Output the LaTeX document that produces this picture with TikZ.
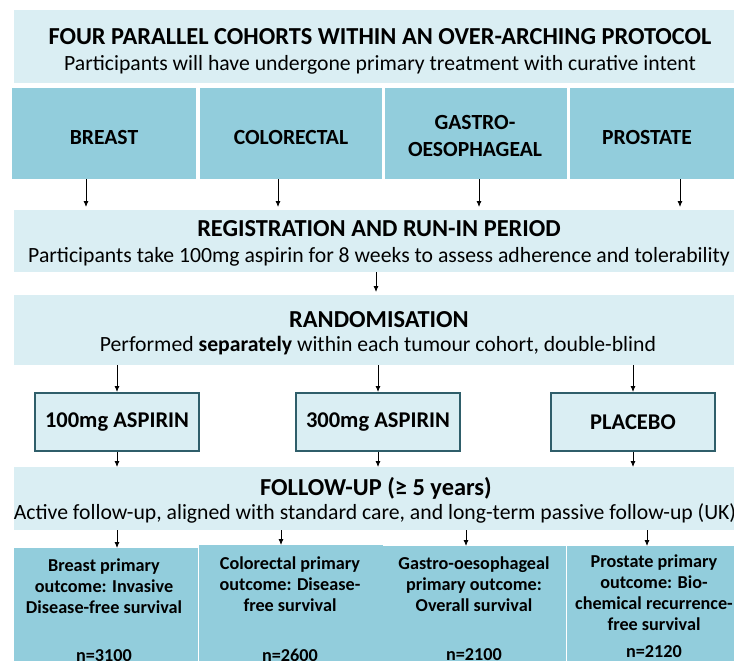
\documentclass[tikz,border=0pt]{standalone}
\usepackage{fontspec}
\setmainfont{Carlito}
\usetikzlibrary{arrows.meta}
\definecolor{lightb}{HTML}{DAEEF3}
\definecolor{midb}{HTML}{92CDDC}
\definecolor{darkb}{HTML}{2F5E6A}
\tikzset{
  banner/.style={fill=lightb, draw=none},
  cohort/.style={fill=midb, draw=none},
  treat/.style={fill=lightb, draw=darkb, line width=2pt, font=\fontsize{22.5}{26}\selectfont\bfseries, inner sep=0pt},
  arr/.style={-{Latex[length=6pt,width=5pt]}, line width=0.8pt, black},
  ttl/.style={font=\fontsize{24.4}{28}\selectfont\bfseries, inner sep=0pt},
  sub/.style={font=\fontsize{21.7}{25}\selectfont, inner sep=0pt},
  clab/.style={font=\fontsize{21.6}{27}\selectfont\bfseries, inner sep=0pt, align=center},
  olab/.style={font=\fontsize{18.2}{21}\selectfont\bfseries, inner sep=0pt, align=center},
}
\begin{document}
\begin{tikzpicture}[x=1pt,y=-1pt]
\useasboundingbox (0,0) rectangle (734,661);
\clip (0,0) rectangle (734,661);
% banners
\path[banner] (14,10) rectangle (745,83);
\node[ttl] (t1) at (380,37) {FOUR PARALLEL COHORTS WITHIN AN OVER-ARCHING PROTOCOL};
\node[sub] (s1) at (380,65) {Participants will have undergone primary treatment with curative intent};
% cohorts
\node[cohort, minimum width=184pt, minimum height=91pt, anchor=north west] (c1) at (12,88) {};
\node[cohort, minimum width=182pt, minimum height=91pt, anchor=north west] (c2) at (200,88) {};
\node[cohort, minimum width=182pt, minimum height=91pt, anchor=north west] (c3) at (385,88) {};
\node[cohort, minimum width=175pt, minimum height=91pt, anchor=north west] (c4) at (570,88) {};
\node[clab] at (104,137) {BREAST};
\node[clab] at (291,137) {COLORECTAL};
\node[clab] at (475,136) {GASTRO-\\OESOPHAGEAL};
\node[clab] at (647,137) {PROSTATE};
% registration
\node[banner, minimum width=731pt, minimum height=62pt, anchor=north west] (reg) at (14,210) {};
\node[ttl] at (379,229) {REGISTRATION AND RUN-IN PERIOD};
\node[sub] at (379,257) {Participants take 100mg aspirin for 8 weeks to assess adherence and tolerability};
% randomisation
\node[banner, minimum width=731pt, minimum height=70pt, anchor=north west] (ran) at (14,295) {};
\node[ttl] at (379,320) {RANDOMISATION};
\node[sub] at (378,346) {Performed \textbf{separately} within each tumour cohort, double-blind};
% treatments
\node[treat, minimum width=164pt, minimum height=58pt, anchor=north west] (a1) at (34,392) {100mg ASPIRIN};
\node[treat, minimum width=164pt, minimum height=58pt, anchor=north west] (a2) at (295,392) {300mg ASPIRIN};
\node[treat, minimum width=164pt, minimum height=58pt, anchor=north west] (a3) at (550,392) {PLACEBO};
% follow-up
\node[banner, minimum width=731pt, minimum height=63pt, anchor=north west] (fu) at (14,467) {};
\node[ttl] at (376,488) {FOLLOW-UP (≥ 5 years)};
\node[sub] at (375,513) {Active follow-up, aligned with standard care, and long-term passive follow-up (UK)};
% outcomes
\node[cohort, minimum width=184pt, minimum height=120pt, anchor=north west] (o1) at (14,548) {};
\node[cohort, minimum width=184pt, minimum height=120pt, anchor=north west] (o2) at (199,545) {};
\node[cohort, minimum width=183pt, minimum height=120pt, anchor=north west] (o3) at (383,546) {};
\node[cohort, minimum width=178pt, minimum height=120pt, anchor=north west] (o4) at (567,546) {};
\node[olab] at (104,586) {Breast primary\\outcome: Invasive\\Disease-free survival};
\node[olab] at (290,584) {Colorectal primary\\outcome: Disease-\\free survival};
\node[olab] at (474,584) {Gastro-oesophageal\\primary outcome:\\Overall survival};
\node[olab] at (654,593) {Prostate primary\\outcome: Bio-\\chemical recurrence-\\free survival};
\node[olab] at (104,656) {n=3100};
\node[olab] at (290,655) {n=2600};
\node[olab] at (474,655) {n=2100};
\node[olab] at (654,652) {n=2120};
% arrows
\foreach \x/\c in {86/c1,278/c2,479/c3,680/c4}
  \draw[arr] (\c.south -| \x,0) -- ([yshift=3pt]reg.north -| \x,0);
\draw[arr] (reg.south -| 376,0) -- ([yshift=3pt]ran.north -| 376,0);
\draw[arr] (ran.south -| a1) -- (a1.north);
\draw[arr] (ran.south -| a2) -- (a2.north);
\draw[arr] (ran.south -| a3) -- (a3.north);
\draw[arr] (a1.south) -- (fu.north -| a1);
\draw[arr] (a2.south) -- (fu.north -| a2);
\draw[arr] (a3.south) -- (fu.north -| a3);
\draw[arr] (fu.south -| 117,0) -- (o1.north -| 117,0);
\draw[arr] (fu.south -| 281,0) -- (o2.north -| 281,0);
\draw[arr] (fu.south -| 466,0) -- (o3.north -| 466,0);
\draw[arr] (fu.south -| 647,0) -- (o4.north -| 647,0);
\end{tikzpicture}
\end{document}
